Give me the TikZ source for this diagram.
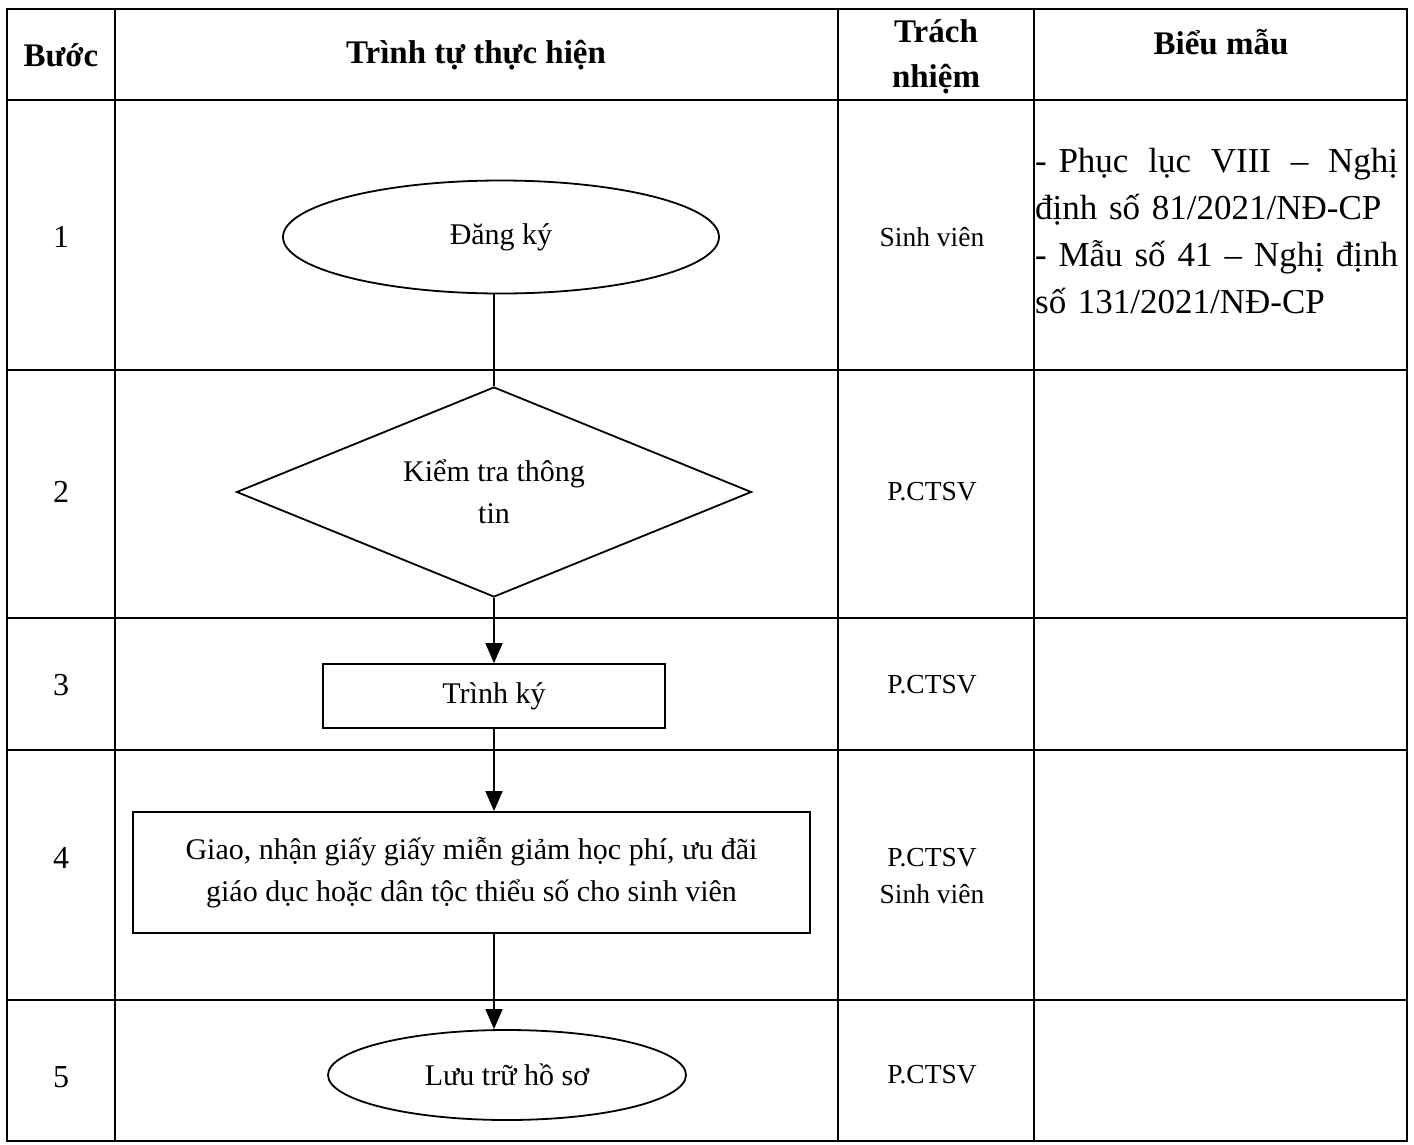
\documentclass[tikz,border=0pt]{standalone}
\usepackage{fontspec}
\setmainfont{Liberation Serif}
\usetikzlibrary{shapes.geometric,arrows.meta}
\tikzstyle{grid} = [line width=2.6pt]
\tikzstyle{flow} = [draw, line width=1.8pt, font=\fontsize{30}{42}\selectfont, align=center]
\tikzstyle{head} = [font=\bfseries\fontsize{33}{45}\selectfont, align=center]
\tikzstyle{num} = [font=\fontsize{32}{40}\selectfont]
\tikzstyle{resp} = [font=\fontsize{27.5}{37}\selectfont, align=center]
\tikzstyle{link} = [line width=1.8pt]
\tikzstyle{arrow} = [link, -{Triangle[length=20pt,width=17pt]}]

\begin{document}
\begin{tikzpicture}[x=1pt, y=-1pt]
	\useasboundingbox (0,0) rectangle (1414,1144);
	% khung bang
	\draw[grid] (7,9) rectangle (1407,1141);
	\foreach \y in {100,370,618,750,1000}
		\draw[grid] (7,\y) -- (1407,\y);
	\foreach \x in {115,838,1034}
		\draw[grid] (\x,9) -- (\x,1141);

	% tieu de
	\node[head] (hbuoc) at (61,55) {Bước};
	\node[head] (htrinhtu) at (476,55) {Trình tự thực hiện};
	\node[head] (htrachnhiem) at (936,57) {Trách\\nhiệm};
	\node[head] (hbieumau) at (1221,42) {Biểu mẫu};

	% cot buoc
	\foreach \n/\y in {1/237,2/492,3/685,4/858,5/1077}
		\node[num] (b\n) at (61,\y) {\n};

	% luu do
	\node[flow, ellipse, minimum width=436pt, minimum height=113pt] (dangky) at (501,237) {Đăng ký};
	\node[flow, diamond, aspect=2.45, minimum width=515pt, minimum height=210pt, inner sep=0pt] (kiemtra) at (494,492) {Kiểm tra thông\\tin};
	\node[flow, minimum width=342pt, minimum height=64pt] (trinhky) at (494,696) {Trình ký};
	\node[flow, minimum width=677pt, minimum height=121pt] (giao) at (471.5,872.5) {Giao, nhận giấy giấy miễn giảm học phí, ưu đãi\\giáo dục hoặc dân tộc thiểu số cho sinh viên};
	\node[flow, ellipse, minimum width=358pt, minimum height=90pt] (luutru) at (507,1075) {Lưu trữ hồ sơ};

	\draw[link] (kiemtra.north |- dangky.south) -- (kiemtra.north);
	\draw[arrow] (kiemtra.south) -- (trinhky.north);
	\draw[arrow] (trinhky.south) -- (trinhky.south |- giao.north);
	\draw[arrow] (trinhky.south |- giao.south) -- (trinhky.south |- luutru.north);

	% trach nhiem
	\node[resp] (tn1) at (932,237) {Sinh viên};
	\node[resp] (tn2) at (932,492) {P.CTSV};
	\node[resp] (tn3) at (932,685) {P.CTSV};
	\node[resp] (tn4) at (932,876) {P.CTSV\\Sinh viên};
	\node[resp] (tn5) at (932,1075) {P.CTSV};

	% bieu mau
	\node[anchor=north west, inner sep=0pt, text width=363pt, align=left, font=\fontsize{35}{47}\selectfont] (bm1) at (1035,148)
		{\leavevmode\hbox to 363pt{- Phục\hfill lục\hfill VIII\hfill –\hfill Nghị}\\định số 81/2021/NĐ-CP\\\leavevmode\hbox to 363pt{- Mẫu\hfill số\hfill 41\hfill –\hfill Nghị\hfill định}\\số 131/2021/NĐ-CP};
\end{tikzpicture}
\end{document}
